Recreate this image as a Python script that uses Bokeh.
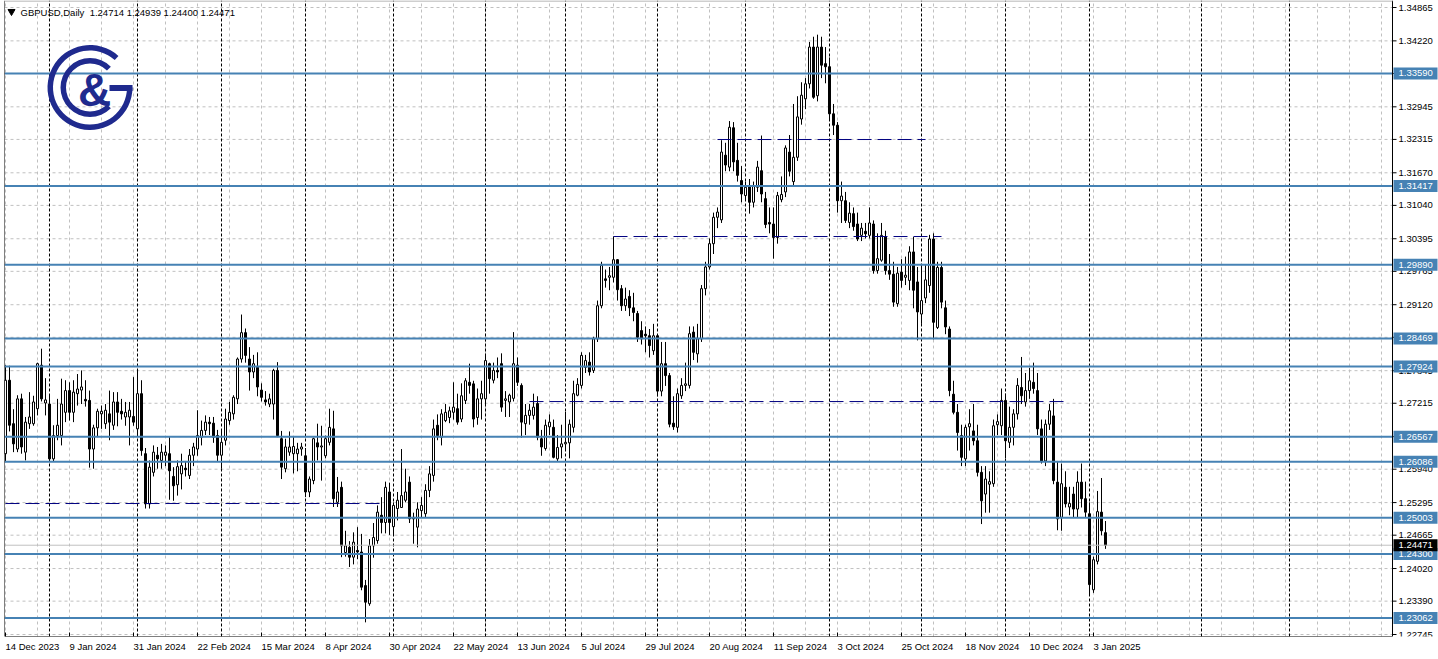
import numpy as np
from bokeh.plotting import figure
from bokeh.models import Range1d, FixedTicker, ColumnDataSource
from bokeh.embed import file_html
from bokeh.resources import INLINE
from bokeh.core.properties import value

# ---------------- data ----------------
symbol = "GBPUSD,Daily"
last_ohlc = ["1.24714", "1.24939", "1.24400", "1.24471"]

opens = [
    1.2624,1.2766,1.2682,1.2633,1.2730,1.2627,1.2682,1.2682,1.2711,1.2795,
    1.2722,1.2720,1.2614,1.2659,1.2659,1.2704,1.2746,1.2704,1.2740,1.2747,
    1.2729,1.2727,1.2633,1.2674,1.2701,1.2682,1.2701,1.2679,1.2724,1.2706,
    1.2695,1.2695,1.2696,1.2672,1.2740,1.2624,1.2527,1.2588,1.2621,1.2611,
    1.2621,1.2624,1.2580,1.2564,1.2585,1.2596,1.2582,1.2621,1.2633,1.2656,
    1.2669,1.2685,1.2683,1.2659,1.2621,1.2650,1.2688,1.2701,1.2730,1.2807,
    1.2858,1.2807,1.2782,1.2791,1.2747,1.2728,1.2720,1.2720,1.2785,1.2653,
    1.2595,1.2627,1.2624,1.2624,1.2633,1.2620,1.2550,1.2572,1.2645,1.2637,
    1.2620,1.2646,1.2672,1.2530,1.2559,1.2433,1.2443,1.2424,1.2437,1.2434,
    1.2369,1.2334,1.2446,1.2456,1.2505,1.2491,1.2550,1.2483,1.2518,1.2520,
    1.2534,1.2569,1.2501,1.2482,1.2514,1.2508,1.2553,1.2582,1.2679,1.2656,
    1.2688,1.2694,1.2704,1.2711,1.2691,1.2727,1.2762,1.2759,1.2694,1.2730,
    1.2730,1.2798,1.2766,1.2785,1.2798,1.2727,1.2724,1.2731,1.2795,1.2756,
    1.2682,1.2698,1.2698,1.2721,1.2653,1.2634,1.2676,1.2675,1.2614,1.2637,
    1.2643,1.2645,1.2675,1.2737,1.2756,1.2791,1.2801,1.2785,1.2846,1.2910,
    1.2962,1.2965,1.2965,1.2999,1.2943,1.2910,1.2928,1.2906,1.2895,1.2862,
    1.2855,1.2852,1.2823,1.2852,1.2745,1.2798,1.2775,1.2683,1.2675,1.2736,
    1.2756,1.2756,1.2859,1.2817,1.2846,1.2943,1.2985,1.3030,1.3081,1.3076,
    1.3201,1.3178,1.3254,1.3191,1.3152,1.3123,1.3140,1.3110,1.3139,1.3171,
    1.3117,1.3071,1.3068,1.3042,1.3115,1.3130,1.3207,1.3150,1.3197,1.3271,
    1.3310,1.3339,1.3410,1.3316,1.3410,1.3378,1.3372,1.3281,1.3259,1.3113,
    1.3113,1.3071,1.3088,1.3068,1.3046,1.3054,1.3046,1.3068,1.2978,1.2998,
    1.3043,1.2978,1.2971,1.2914,1.2975,1.2965,1.2959,1.3014,1.2956,1.2894,
    1.2925,1.2949,1.3039,1.2868,1.2984,1.2906,1.2865,1.2739,1.2704,1.2659,
    1.2614,1.2676,1.2668,1.2649,1.2588,1.2546,1.2565,1.2566,1.2680,1.2678,
    1.2727,1.2646,1.2675,1.2701,1.2752,1.2724,1.2746,1.2762,1.2746,1.2672,
    1.2610,1.2681,1.2697,1.2569,1.2501,1.2559,1.2521,1.2546,1.2517,1.2569,
    1.2537,1.2508,1.2361,1.2416,1.2511,1.24714]

highs = [
    1.2795,1.2794,1.2710,1.2737,1.2740,1.2695,1.2743,1.2736,1.2800,1.2827,
    1.2770,1.2736,1.2679,1.2730,1.2769,1.2766,1.2762,1.2766,1.2778,1.2785,
    1.2766,1.2746,1.2680,1.2711,1.2717,1.2720,1.2746,1.2743,1.2743,1.2730,
    1.2724,1.2724,1.2772,1.2785,1.2766,1.2635,1.2611,1.2640,1.2637,1.2643,
    1.2640,1.2656,1.2598,1.2611,1.2624,1.2610,1.2633,1.2645,1.2708,1.2688,
    1.2698,1.2695,1.2695,1.2670,1.2669,1.2711,1.2724,1.2737,1.2810,1.2893,
    1.2866,1.2830,1.2815,1.2820,1.2760,1.2745,1.2740,1.2788,1.2801,1.2668,
    1.2653,1.2667,1.2656,1.2645,1.2645,1.2635,1.2580,1.2655,1.2682,1.2678,
    1.2659,1.2711,1.2707,1.2579,1.2570,1.2475,1.2455,1.2472,1.2482,1.2469,
    1.2380,1.2459,1.2490,1.2524,1.2540,1.2570,1.2568,1.2530,1.2550,1.2633,
    1.2595,1.2580,1.2510,1.2530,1.2540,1.2565,1.2600,1.2690,1.2700,1.2710,
    1.2720,1.2715,1.2762,1.2740,1.2760,1.2770,1.2798,1.2765,1.2750,1.2765,
    1.2815,1.2800,1.2800,1.2810,1.2818,1.2745,1.2740,1.2859,1.2810,1.2760,
    1.2720,1.2720,1.2740,1.2735,1.2670,1.2690,1.2700,1.2690,1.2660,1.2680,
    1.2705,1.2690,1.2765,1.2770,1.2820,1.2815,1.2820,1.2850,1.2920,1.2995,
    1.2980,1.2985,1.3044,1.3000,1.2950,1.2945,1.2940,1.2935,1.2900,1.2880,
    1.2870,1.2865,1.2875,1.2855,1.2840,1.2840,1.2780,1.2735,1.2750,1.2770,
    1.2800,1.2870,1.2870,1.2875,1.2950,1.2995,1.3040,1.3090,1.3100,1.3230,
    1.3225,1.3267,1.3265,1.3225,1.3180,1.3150,1.3155,1.3150,1.3190,1.3239,
    1.3130,1.3100,1.3100,1.3130,1.3160,1.3220,1.3240,1.3300,1.3315,1.3342,
    1.3350,1.3420,1.3430,1.3434,1.3430,1.3410,1.3390,1.3300,1.3265,1.3150,
    1.3130,1.3110,1.3100,1.3090,1.3070,1.3070,1.3100,1.3075,1.3050,1.3070,
    1.3055,1.3010,1.2995,1.2985,1.3000,1.3005,1.3025,1.3043,1.2985,1.2990,
    1.2990,1.3047,1.3050,1.2995,1.2995,1.2920,1.2870,1.2765,1.2720,1.2680,
    1.2680,1.2710,1.2720,1.2680,1.2600,1.2600,1.2590,1.2690,1.2700,1.2750,
    1.2740,1.2715,1.2710,1.2770,1.2811,1.2780,1.2790,1.2800,1.2780,1.2690,
    1.2690,1.2720,1.2730,1.2610,1.2605,1.2590,1.2560,1.2560,1.2590,1.2605,
    1.2570,1.2530,1.2425,1.2552,1.2577,1.24939]

lows = [
    1.2608,1.2667,1.2627,1.2627,1.2624,1.2611,1.2672,1.2678,1.2698,1.2725,
    1.2698,1.2610,1.2608,1.2650,1.2640,1.2685,1.2688,1.2685,1.2717,1.2720,
    1.2715,1.2597,1.2595,1.2656,1.2672,1.2672,1.2650,1.2670,1.2677,1.2690,
    1.2678,1.2640,1.2678,1.2662,1.2620,1.2518,1.2518,1.2580,1.2595,1.2595,
    1.2600,1.2535,1.2533,1.2543,1.2555,1.2580,1.2575,1.2600,1.2620,1.2640,
    1.2660,1.2660,1.2645,1.2610,1.2595,1.2640,1.2680,1.2690,1.2720,1.2800,
    1.2800,1.2746,1.2770,1.2735,1.2725,1.2717,1.2714,1.2690,1.2656,1.2575,
    1.2588,1.2620,1.2586,1.2590,1.2620,1.2540,1.2540,1.2565,1.2611,1.2572,
    1.2615,1.2640,1.2521,1.2521,1.2424,1.2425,1.2405,1.2410,1.2420,1.2360,
    1.2298,1.2330,1.2423,1.2450,1.2470,1.2470,1.2467,1.2466,1.2495,1.2520,
    1.2530,1.2490,1.2450,1.2443,1.2500,1.2500,1.2540,1.2570,1.2650,1.2640,
    1.2685,1.2683,1.2690,1.2680,1.2685,1.2720,1.2740,1.2675,1.2680,1.2690,
    1.2720,1.2740,1.2760,1.2770,1.2705,1.2695,1.2695,1.2725,1.2755,1.2655,
    1.2660,1.2680,1.2690,1.2650,1.2620,1.2630,1.2660,1.2615,1.2610,1.2615,
    1.2630,1.2615,1.2665,1.2735,1.2750,1.2780,1.2775,1.2780,1.2840,1.2905,
    1.2945,1.2940,1.2955,1.2920,1.2900,1.2900,1.2890,1.2880,1.2840,1.2835,
    1.2820,1.2810,1.2815,1.2735,1.2735,1.2755,1.2675,1.2670,1.2665,1.2730,
    1.2745,1.2750,1.2805,1.2800,1.2840,1.2930,1.2980,1.3010,1.3060,1.3070,
    1.3170,1.3170,1.3170,1.3150,1.3110,1.3115,1.3088,1.3100,1.3130,1.3110,
    1.3060,1.3050,1.3001,1.3030,1.3110,1.3120,1.3160,1.3140,1.3190,1.3260,
    1.3290,1.3330,1.3310,1.3305,1.3350,1.3340,1.3270,1.3240,1.3090,1.3070,
    1.3070,1.3060,1.3055,1.3035,1.3035,1.3040,1.3040,1.2972,1.2972,1.2995,
    1.2970,1.2960,1.2908,1.2908,1.2945,1.2950,1.2940,1.2905,1.2843,1.2875,
    1.2915,1.2935,1.2845,1.2865,1.2905,1.2855,1.2735,1.2700,1.2630,1.2600,
    1.2600,1.2630,1.2640,1.2580,1.2488,1.2510,1.2510,1.2560,1.2660,1.2660,
    1.2615,1.2635,1.2640,1.2690,1.2720,1.2715,1.2730,1.2740,1.2660,1.2605,
    1.2600,1.2670,1.2565,1.2476,1.2475,1.2520,1.2505,1.2500,1.2500,1.2520,
    1.2500,1.2352,1.2355,1.2410,1.2466,1.24400]

closes = [
    1.2766,1.2679,1.2643,1.2730,1.2637,1.2685,1.2695,1.2724,1.2798,1.2730,
    1.2728,1.2614,1.2659,1.2679,1.2720,1.2746,1.2704,1.2743,1.2749,1.2753,
    1.2726,1.2633,1.2674,1.2706,1.2706,1.2708,1.2685,1.2724,1.2704,1.2701,
    1.2704,1.2708,1.2685,1.2740,1.2630,1.2527,1.2598,1.2627,1.2614,1.2627,
    1.2627,1.2591,1.2562,1.2599,1.2601,1.2593,1.2621,1.2637,1.2659,1.2669,
    1.2685,1.2682,1.2656,1.2621,1.2646,1.2691,1.2704,1.2733,1.2807,1.2858,
    1.2814,1.2782,1.2798,1.2753,1.2733,1.2724,1.2730,1.2785,1.2659,1.2598,
    1.2637,1.2637,1.2638,1.2633,1.2637,1.2550,1.2575,1.2653,1.2637,1.2639,
    1.2653,1.2675,1.2537,1.2550,1.2446,1.2446,1.2424,1.2453,1.2434,1.2366,
    1.2337,1.2446,1.2462,1.2511,1.2491,1.2559,1.2491,1.2524,1.2534,1.2543,
    1.2550,1.2498,1.2498,1.2517,1.2524,1.2553,1.2585,1.2672,1.2659,1.2701,
    1.2704,1.2707,1.2714,1.2685,1.2736,1.2765,1.2756,1.2691,1.2730,1.2740,
    1.2804,1.2769,1.2785,1.2782,1.2714,1.2730,1.2737,1.2798,1.2762,1.2685,
    1.2698,1.2708,1.2714,1.2656,1.2637,1.2679,1.2685,1.2617,1.2636,1.2643,
    1.2646,1.2681,1.2740,1.2758,1.2814,1.2804,1.2782,1.2846,1.2910,1.2988,
    1.2959,1.2968,1.2999,1.2941,1.2910,1.2923,1.2906,1.2897,1.2849,1.2846,
    1.2852,1.2833,1.2852,1.2745,1.2798,1.2775,1.2681,1.2676,1.2740,1.2756,
    1.2759,1.2856,1.2820,1.2846,1.2943,1.2985,1.3030,1.3081,1.3091,1.3207,
    1.3182,1.3255,1.3188,1.3162,1.3126,1.3139,1.3110,1.3141,1.3178,1.3126,
    1.3067,1.3068,1.3042,1.3123,1.3125,1.3215,1.3170,1.3197,1.3275,1.3317,
    1.3339,1.3410,1.3313,1.3410,1.3375,1.3372,1.3281,1.3259,1.3113,1.3122,
    1.3075,1.3089,1.3063,1.3039,1.3060,1.3049,1.3070,1.2978,1.3001,1.3046,
    1.2978,1.2971,1.2917,1.2973,1.2959,1.2969,1.3014,1.2940,1.2898,1.2920,
    1.2960,1.3039,1.2878,1.2984,1.2917,1.2869,1.2746,1.2704,1.2665,1.2617,
    1.2675,1.2682,1.2649,1.2588,1.2533,1.2575,1.2570,1.2678,1.2686,1.2727,
    1.2649,1.2675,1.2701,1.2756,1.2736,1.2746,1.2765,1.2750,1.2672,1.2610,
    1.2681,1.2707,1.2572,1.2498,1.2566,1.2527,1.2528,1.2517,1.2569,1.2537,
    1.2511,1.2371,1.2419,1.2512,1.2475,1.24471]

price_ticks = [1.22745, 1.23390, 1.24020, 1.24665, 1.25295, 1.25940, 1.26570,
               1.27215, 1.27845, 1.28490, 1.29120, 1.29765, 1.30395, 1.31040,
               1.31670, 1.32315, 1.32945, 1.33590, 1.34220, 1.34865]

levels = [1.33590, 1.31417, 1.29890, 1.28469, 1.27924, 1.26567,
          1.26086, 1.25003, 1.24300, 1.23062]

dash_levels = [1.25277, 1.27248, 1.30438, 1.32313]
dash_from = [0, 131, 152, 178]
dash_to = [94, 265, 234, 230]

separator_bars = [11, 33, 54, 75, 97, 120, 140, 163, 185, 206, 229, 250, 271, 299, 321]

date_label_bars = [0, 16, 32, 48, 64, 80, 96, 112, 128, 144, 160, 176, 192,
                   208, 224, 240, 256, 272]
date_labels = ["14 Dec 2023", "9 Jan 2024", "31 Jan 2024", "22 Feb 2024",
               "15 Mar 2024", "8 Apr 2024", "30 Apr 2024", "22 May 2024",
               "13 Jun 2024", "5 Jul 2024", "29 Jul 2024", "20 Aug 2024",
               "11 Sep 2024", "3 Oct 2024", "25 Oct 2024", "18 Nov 2024",
               "10 Dec 2024", "3 Jan 2025"]

bid = 1.24471

# ---------------- geometry / style ----------------
FONT = "Liberation Sans"
FS = 9.5
PXY = 5173.3            # pixels per price unit
XS = -0.25              # bar coordinate at the left frame edge (page x = 4)
XE = XS + 1434 / 4.0
Y_HI = 1.34865 + 7 / PXY
Y_LO = 1.34865 - 629 / PXY
BLUE = "#4682B4"
NAVY = "#000080"
LOGO = "#1F2A8E"
GRID = "#C0C0C0"

def ix(px):   # page pixel x -> bar coordinate
    return (px - 5.0) / 4.0

def iy(py):   # page pixel y -> price coordinate
    return 1.34865 - (py - 7) / PXY

X_AX = ix(1392)       # price scale line

p = figure(frame_width=1434, frame_height=636,
           x_range=Range1d(XS, XE), y_range=Range1d(Y_LO, Y_HI),
           output_backend="svg", toolbar_location=None,
           y_axis_location=None,
           min_border_left=4, min_border_top=0, min_border_right=0, min_border_bottom=23,
           background_fill_color="white", border_fill_color="white")
p.outline_line_color = None
p.grid.visible = False

# x axis (time): labels start at their bar, so shift the tick to the label centre
CW = {'0': .556, '1': .556, '2': .556, '3': .556, '4': .556, '5': .556, '6': .556,
      '7': .556, '8': .556, '9': .556, ' ': .278, 'D': .722, 'J': .5, 'F': .611,
      'M': .833, 'A': .667, 'S': .667, 'O': .778, 'N': .722, 'e': .556, 'c': .5,
      'a': .556, 'n': .556, 'b': .556, 'r': .333, 'p': .556, 'y': .5, 'u': .556,
      'l': .222, 'g': .556, 't': .278, 'o': .556, 'v': .5}
centers = []
overrides = {}
for b, s in zip(date_label_bars, date_labels):
    w = sum(CW.get(ch, .556) for ch in s) * FS
    cpos = round(b + w / 2 / 4.0, 2)
    centers.append(cpos)
    overrides[cpos] = s
xa = p.xaxis[0]
xa.ticker = FixedTicker(ticks=centers)
xa.major_label_overrides = overrides
xa.major_tick_in = 0
xa.major_tick_out = 0
xa.minor_tick_in = 0
xa.minor_tick_out = 0
xa.major_label_standoff = 4
xa.axis_line_color = None
xa.major_label_text_font = FONT
xa.major_label_text_font_size = f"{FS}px"
xa.major_label_text_color = "black"

# grid (stops at the price scale)
vg = list(range(0, 347, 8))
p.segment(x0=vg, x1=vg, y0=[Y_LO] * len(vg), y1=[Y_HI] * len(vg),
          line_color=GRID, line_width=1, line_dash="3 3")
p.segment(x0=[XS] * len(price_ticks), x1=[X_AX] * len(price_ticks),
          y0=price_ticks, y1=price_ticks,
          line_color=GRID, line_width=1, line_dash="3 3")

# period separators
ns = len(separator_bars)
p.segment(x0=separator_bars, x1=separator_bars,
          y0=[Y_LO] * ns, y1=[Y_HI] * ns,
          line_color="black", line_width=1, line_dash="3 2")

# candles
idx = np.arange(len(opens))
o = np.array(opens); h = np.array(highs); l = np.array(lows); c = np.array(closes)
up = c >= o
src = ColumnDataSource(dict(x=idx, top=np.maximum(o, c), bottom=np.minimum(o, c),
                            hi=h, lo=l, fill=np.where(up, "white", "black")))
p.segment(x0="x", y0="lo", x1="x", y1="hi", source=src, line_color="black", line_width=1)
p.vbar(x="x", width=0.5, top="top", bottom="bottom", source=src,
       fill_color="fill", line_color="black", line_width=1)

# bid line
p.segment(x0=[XS], x1=[X_AX], y0=[bid], y1=[bid], line_color=GRID, line_width=1)

# horizontal levels
n = len(levels)
p.segment(x0=[XS] * n, x1=[X_AX] * n, y0=levels, y1=levels,
          line_color=BLUE, line_width=2)

# dashed segments
p.segment(x0=dash_from, x1=dash_to, y0=dash_levels, y1=dash_levels,
          line_color=NAVY, line_width=1, line_dash="14 6")

# chart border (left / bottom) and price-scale line
p.segment(x0=[ix(4), XS, X_AX], x1=[ix(4), X_AX, X_AX],
          y0=[Y_LO, iy(636), Y_LO], y1=[Y_HI, iy(636), Y_HI],
          line_color="black", line_width=1)
p.segment(x0=[XS], x1=[X_AX], y0=[iy(0.5)], y1=[iy(0.5)], line_color="#A0A0A0", line_width=1)

# small time ticks on the bottom line
nb = len(date_label_bars)
p.segment(x0=date_label_bars, x1=date_label_bars,
          y0=[iy(636)] * nb, y1=[iy(632)] * nb, line_color="black", line_width=1)

# price scale: ticks + labels
nt = len(price_ticks)
p.segment(x0=[X_AX] * nt, x1=[ix(1396)] * nt, y0=price_ticks, y1=price_ticks,
          line_color="black", line_width=1)
p.text(x=[ix(1398)] * nt, y=price_ticks, text=[f"{t:.5f}" for t in price_ticks],
       text_font=value(FONT), text_font_size=f"{FS}px", text_color="black",
       text_align="left", text_baseline="middle")

# level boxes on the price scale
box_h = 12 / PXY
p.quad(left=[ix(1393)] * n, right=[ix(1437)] * n,
       top=[lv + box_h / 2 for lv in levels], bottom=[lv - box_h / 2 for lv in levels],
       fill_color=BLUE, line_color=None)
p.text(x=[ix(1398)] * n, y=levels, text=[f"{lv:.5f}" for lv in levels],
       text_font=value(FONT), text_font_size=f"{FS}px", text_color="white",
       text_align="left", text_baseline="middle")
p.quad(left=[ix(1393)], right=[ix(1437)], top=[bid + box_h / 2], bottom=[bid - box_h / 2],
       fill_color="black", line_color=None)
p.text(x=[ix(1398)], y=[bid], text=[f"{bid:.5f}"],
       text_font=value(FONT), text_font_size=f"{FS}px", text_color="white",
       text_align="left", text_baseline="middle")

# title
p.scatter(x=[ix(11)], y=[iy(11)], marker="inverted_triangle", size=7,
          fill_color="black", line_color="black")
title = symbol + "\u00a0 " + " ".join(last_ohlc)
p.text(x=[ix(20)], y=[iy(11.5)], text=[title], text_font=value(FONT),
       text_font_size=f"{FS}px", text_color="black",
       text_align="left", text_baseline="middle")

# logo
cx, cy = ix(89.5), iy(87)
p.annular_wedge(x=[cx], y=[cy], inner_radius=37, outer_radius=42.5,
                inner_radius_units="screen", outer_radius_units="screen",
                start_angle=np.deg2rad(48), end_angle=2 * np.pi,
                fill_color=LOGO, line_color=None)
p.annular_wedge(x=[cx], y=[cy], inner_radius=24, outer_radius=29.5,
                inner_radius_units="screen", outer_radius_units="screen",
                start_angle=np.deg2rad(45), end_angle=np.deg2rad(315),
                fill_color=LOGO, line_color=None)
p.quad(left=[ix(109)], right=[ix(132)], top=[iy(84.5)], bottom=[iy(90.5)],
       fill_color=LOGO, line_color=None)
p.text(x=[ix(94)], y=[iy(89)], text=["&"], text_font=value(FONT),
       text_font_style="bold", text_font_size="46px", text_color=LOGO,
       text_align="center", text_baseline="middle")

open("out.html", "w").write(file_html(p, INLINE))
